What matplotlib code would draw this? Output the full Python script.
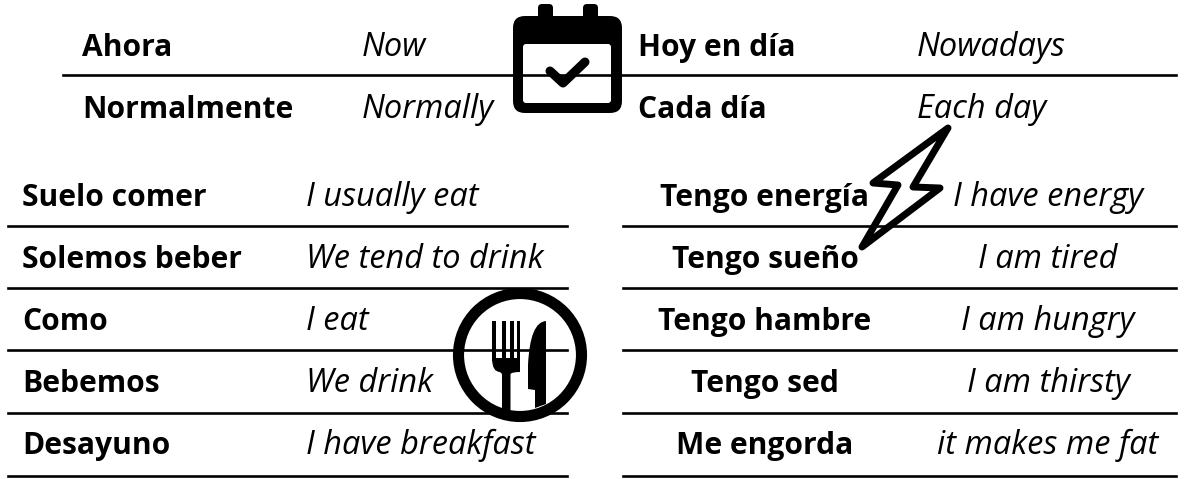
import matplotlib
matplotlib.use("Agg")
import matplotlib.pyplot as plt
from matplotlib.patches import Circle, FancyBboxPatch, PathPatch, Polygon, Rectangle
from matplotlib.path import Path

# vocabulary tables
top_left_es = ["Ahora", "Normalmente"]
top_left_en = ["Now", "Normally"]
top_right_es = ["Hoy en día", "Cada día"]
top_right_en = ["Nowadays", "Each day"]
food_es = ["Suelo comer", "Solemos beber", "Como", "Bebemos", "Desayuno"]
food_en = ["I usually eat", "We tend to drink", "I eat", "We drink", "I have breakfast"]
state_es = ["Tengo energía", "Tengo sueño", "Tengo hambre", "Tengo sed", "Me engorda"]
state_en = ["I have energy", "I am tired", "I am hungry", "I am thirsty", "it makes me fat"]

W, H = 1196, 479
size_es = 21.6
size_en = 23.4
lw_rule = 1.9
plt.rcParams["font.family"] = ["Open Sans", "DejaVu Sans"]

fig = plt.figure(figsize=(W / 100, H / 100), dpi=100)
ax = fig.add_axes([0, 0, 1, 1])
ax.set_xlim(0, W)
ax.set_ylim(H, 0)
ax.axis("off")


def column(items, x, ys, italic=False, ha="left"):
    for txt, y in zip(items, ys):
        ax.text(x, y, txt, fontsize=size_en if italic else size_es, ha=ha, va="baseline", color="black",
                fontweight="normal" if italic else "bold",
                fontstyle="italic" if italic else "normal")


## text columns (y = baseline)
top_y = [56, 118]
row_y = [206, 268, 330, 392, 454]
column(top_left_es, 82, top_y)
column(top_left_en, 362, top_y, italic=True)
column(top_right_es, 638, top_y)
column(top_right_en, 917, top_y, italic=True)
column(food_es, 22, row_y)
column(food_en, 306, row_y, italic=True)
column(state_es, 765, row_y, ha="center")
column(state_en, 1048, row_y, italic=True, ha="center")

## rules
ax.plot([63, 1176], [75, 75], color="black", lw=lw_rule, zorder=3)
for y in [226, 288, 350, 413, 476]:
    ax.plot([8, 567], [y, y], color="black", lw=lw_rule, zorder=3)
    ax.plot([623, 1176], [y, y], color="black", lw=lw_rule, zorder=3)

## calendar icon
for x0 in [538, 583]:
    ax.add_patch(FancyBboxPatch((x0 + 4, 8), 7, 20, boxstyle="round,pad=4,rounding_size=4",
                                fc="black", ec="none", zorder=2))
ax.add_patch(FancyBboxPatch((525, 28), 85, 73, boxstyle="round,pad=12,rounding_size=12",
                            fc="black", ec="none", zorder=2))
ax.add_patch(FancyBboxPatch((525, 46), 84, 55, boxstyle="round,pad=2,rounding_size=3",
                            fc="white", ec="none", zorder=2.5))
ax.plot([550, 563, 585], [71, 83, 62], color="black", lw=6.5, solid_capstyle="round",
        solid_joinstyle="round", zorder=4)

## fork and knife icon
ax.add_patch(Circle((520, 355), 61.5, fc="none", ec="black", lw=8, zorder=4))
for x0 in [492, 502, 510, 516.5]:
    ax.add_patch(Rectangle((x0, 321), 3.6, 40, fc="black", ec="none", zorder=4))
fork_base = Path(
    [(492, 358), (492, 372), (500, 372), (502, 374), (502, 410), (510.5, 410), (510.5, 374),
     (512, 372), (520, 372), (520, 358), (492, 358)],
    [Path.MOVETO, Path.CURVE3, Path.CURVE3, Path.LINETO, Path.LINETO, Path.LINETO,
     Path.LINETO, Path.CURVE3, Path.CURVE3, Path.LINETO, Path.CLOSEPOLY],
)
ax.add_patch(PathPatch(fork_base, fc="black", ec="none", zorder=4))
knife = Path(
    [(546, 321), (530, 322), (528, 365), (528, 389), (535, 390), (535, 408), (546, 404), (546, 321)],
    [Path.MOVETO, Path.CURVE3, Path.CURVE3, Path.LINETO, Path.LINETO, Path.LINETO, Path.LINETO,
     Path.CLOSEPOLY],
)
ax.add_patch(PathPatch(knife, fc="black", ec="none", zorder=4))

## lightning icon
ax.add_patch(Polygon([(948, 128), (873, 183), (898, 185), (862, 247), (940, 188), (913, 187)],
                     closed=True, fc="none", ec="black", lw=5, joinstyle="round", zorder=5))

fig.savefig("out.png", dpi=100)
